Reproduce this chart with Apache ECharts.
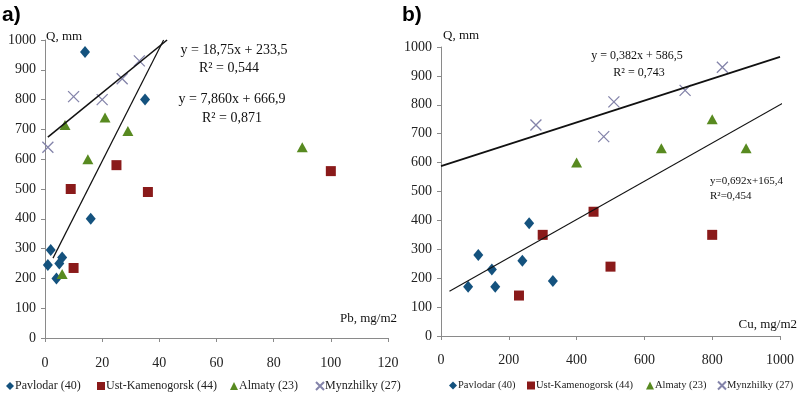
<!DOCTYPE html>
<html><head><meta charset="utf-8">
<script src="https://cdn.jsdelivr.net/npm/echarts@6/dist/echarts.min.js"></script>
<style>html,body{margin:0;padding:0;background:#fff}#c{width:797px;height:401px}</style>
</head><body><div id="c"></div>
<script>
// ---- names ----
const seriesNames = ['Pavlodar (40)', 'Ust-Kamenogorsk (44)', 'Almaty (23)', 'Mynzhilky (27)'];

// ---- chart a) : Pb, mg/m2 vs Q, mm ----
const pbPavlodar = [[14, 960], [35, 800], [16, 400], [2, 295], [1, 245], [4, 200], [5, 250], [6, 270]];
const pbUst = [[9, 500], [36, 490], [25, 580], [10, 235], [100, 560]];
const pbAlmaty = [[7, 715], [21, 740], [15, 600], [29, 695], [6, 215], [90, 640]];
const pbMynzhilky = [[1, 640], [10, 810], [20, 800], [27, 870], [33, 930]];
const pbTrendSteep = [[2.8, 268], [41.5, 1000]];
const pbTrendFlat = [[1, 674], [42.7, 1000]];
const pbXTicks = [0, 20, 40, 60, 80, 100, 120];

// ---- chart b) : Cu, mg/m2 vs Q, mm ----
const cuPavlodar = [[80, 170], [110, 280], [150, 230], [160, 170], [240, 260], [260, 390], [330, 190]];
const cuUst = [[230, 140], [300, 350], [450, 430], [500, 240], [800, 350]];
const cuAlmaty = [[400, 600], [650, 650], [800, 750], [900, 650]];
const cuMynzhilky = [[280, 730], [480, 690], [510, 810], [720, 850], [830, 930]];
const cuTrendUpper = [[0, 588], [1000, 966]];
const cuTrendLower = [[25, 155], [1025, 817]];
const cuXTicks = [0, 200, 400, 600, 800, 1000];
const yTicks = [0, 100, 200, 300, 400, 500, 600, 700, 800, 900, 1000];

// ---- equations ----
const eqA = ['y = 18,75x + 233,5', 'R² = 0,544', 'y = 7,860x + 666,9', 'R² = 0,871'];
const eqB = ['y = 0,382x + 586,5', 'R² = 0,743', 'y=0,692x+165,4', 'R²=0,454'];

const SERIF = "'Liberation Serif', 'Times New Roman', serif";
const COL = {pav: '#14527e', ust: '#8a1a1a', alm: '#588a20', myn: '#8484aa'};
const CROSS = 'path://M0,0L10,10M10,0L0,10';
const ICONS = ['diamond', 'rect', 'triangle', CROSS];

function scatterSet(idx, pav, ust, alm, myn) {
  return [
    {name: seriesNames[0], type: 'scatter', xAxisIndex: idx, yAxisIndex: idx, data: pav,
     symbol: 'diamond', symbolSize: [10, 12], itemStyle: {color: COL.pav, opacity: 1}},
    {name: seriesNames[1], type: 'scatter', xAxisIndex: idx, yAxisIndex: idx, data: ust,
     symbol: 'rect', symbolSize: 10, itemStyle: {color: COL.ust, opacity: 1}},
    {name: seriesNames[2], type: 'scatter', xAxisIndex: idx, yAxisIndex: idx, data: alm,
     symbol: 'triangle', symbolSize: [11, 10], itemStyle: {color: COL.alm, opacity: 1}},
    {name: seriesNames[3], type: 'scatter', xAxisIndex: idx, yAxisIndex: idx, data: myn,
     symbol: CROSS, symbolSize: 11, itemStyle: {color: 'rgba(0,0,0,0)', borderColor: COL.myn, borderWidth: 1.3, opacity: 1}}
  ];
}
function trend(idx, data, w) {
  return {name: 'trend', type: 'line', xAxisIndex: idx, yAxisIndex: idx, data: data,
    symbol: 'none', clip: false, silent: true, lineStyle: {color: '#111', width: w}};
}
function xAx(idx, ticks) {
  return {type: 'value', gridIndex: idx, min: ticks[0], max: ticks[ticks.length - 1],
    interval: ticks[1] - ticks[0], splitLine: {show: false},
    axisLine: {lineStyle: {color: '#8a8a8a', width: 1}},
    axisTick: {show: true, length: 4, lineStyle: {color: '#8a8a8a'}},
    axisLabel: {margin: idx === 0 ? 18 : 17, fontFamily: SERIF, fontSize: 14, color: '#222',
      formatter: v => String(v)}};
}
function yAx(idx) {
  return {type: 'value', gridIndex: idx, min: yTicks[0], max: yTicks[yTicks.length - 1],
    interval: yTicks[1] - yTicks[0], splitLine: {show: false},
    axisLine: {show: true, lineStyle: {color: '#8a8a8a', width: 1}},
    axisTick: {show: true, length: 4, lineStyle: {color: '#8a8a8a'}},
    axisLabel: {margin: 9, fontFamily: SERIF, fontSize: 14, color: '#222',
      formatter: v => String(v)}};
}
function legendOne(i, left, size) {
  return {left: left, top: 375, itemWidth: 8, itemHeight: 8, itemGap: 0,
    data: [{name: seriesNames[i], icon: ICONS[i]}],
    textStyle: {fontFamily: SERIF, fontSize: size, color: '#222', padding: [0, 0, 0, -4]}};
}
function txt(text, x, y, size, align) {
  return {type: 'text', style: {text: text, x: x, y: y,
    font: size + 'px ' + SERIF, fill: '#111', align: align, verticalAlign: 'middle'}};
}

const legendLeftA = [1, 92, 225, 310];
const legendLeftB = [444, 522, 641, 712];

const chart = echarts.init(document.getElementById('c'), null, {renderer: 'canvas'});
chart.setOption({
  animation: false,
  backgroundColor: '#fff',
  grid: [
    {left: 45, right: 409, top: 40, bottom: 63},
    {left: 441, right: 16, top: 47, bottom: 65}
  ],
  xAxis: [xAx(0, pbXTicks), xAx(1, cuXTicks)],
  yAxis: [yAx(0), yAx(1)],
  legend: [0, 1, 2, 3].map(i => legendOne(i, legendLeftA[i], 12))
    .concat([0, 1, 2, 3].map(i => legendOne(i, legendLeftB[i], 10.5))),
  series: [].concat(
    scatterSet(0, pbPavlodar, pbUst, pbAlmaty, pbMynzhilky),
    [trend(0, pbTrendSteep, 1.2), trend(0, pbTrendFlat, 1.6)],
    scatterSet(1, cuPavlodar, cuUst, cuAlmaty, cuMynzhilky),
    [trend(1, cuTrendUpper, 1.8), trend(1, cuTrendLower, 1.1)]
  ),
  graphic: [
    {type: 'text', style: {text: 'a)', x: 2, y: 15, font: 'bold 21px "Liberation Sans", Arial, sans-serif', fill: '#000', verticalAlign: 'middle'}},
    {type: 'text', style: {text: 'b)', x: 402, y: 15, font: 'bold 21px "Liberation Sans", Arial, sans-serif', fill: '#000', verticalAlign: 'middle'}},
    txt('Q, mm', 46, 37, 13, 'left'),
    txt('Q, mm', 443, 36, 13, 'left'),
    txt('Pb, mg/m2', 397, 319, 13, 'right'),
    txt('Cu, mg/m2', 797, 325, 13, 'right'),
    txt(eqA[0], 234, 50, 14, 'center'),
    txt(eqA[1], 229, 68, 14, 'center'),
    txt(eqA[2], 232, 99, 14, 'center'),
    txt(eqA[3], 232, 118, 14, 'center'),
    txt(eqB[0], 637, 56, 12, 'center'),
    txt(eqB[1], 639, 73, 12, 'center'),
    txt(eqB[2], 710, 181, 11, 'left'),
    txt(eqB[3], 710, 196, 11, 'left')
  ]
});
</script></body></html>
